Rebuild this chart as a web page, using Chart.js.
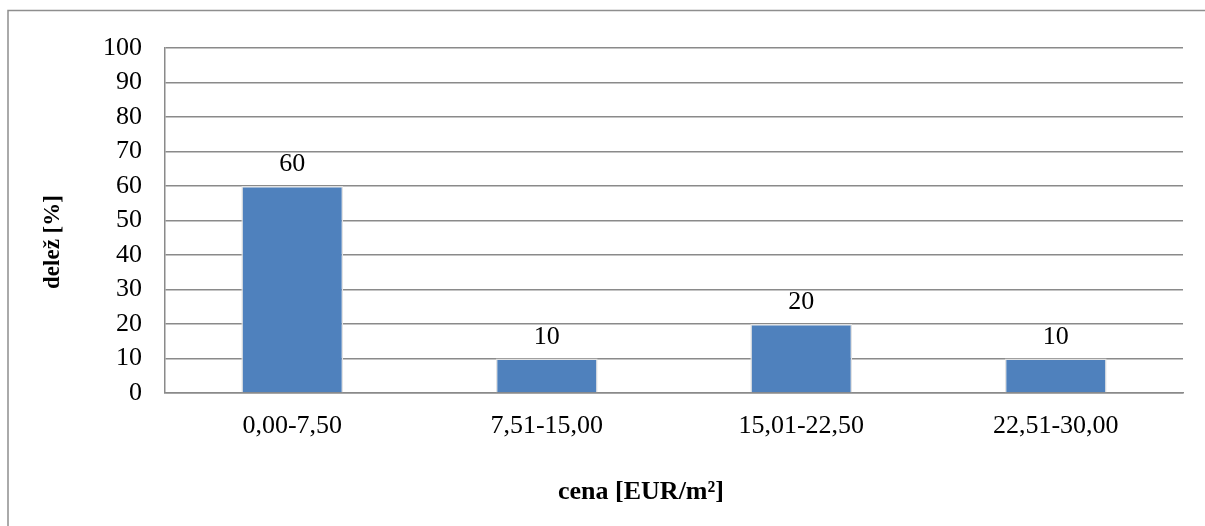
<!DOCTYPE html>
<html>
<head>
<meta charset="utf-8">
<script src="https://cdn.jsdelivr.net/npm/chart.js@4/dist/chart.umd.min.js"></script>
<style>
  html, body { margin: 0; padding: 0; background: #ffffff; }
  #wrap { width: 1205px; height: 526px; }
</style>
</head>
<body>
<div id="wrap"><canvas id="chart" width="1205" height="526"></canvas></div>
<script>
// Price classes and the share of each class
const categories = ['0,00-7,50', '7,51-15,00', '15,01-22,50', '22,51-30,00'];
const shares = [60, 10, 20, 10];
const yTicks = [0, 10, 20, 30, 40, 50, 60, 70, 80, 90, 100];
const xTitle = 'cena [EUR/m²]';
const yTitle = 'delež [%]';

const FONT = '"Liberation Serif", "Times New Roman", serif';
const GRID = '#8a8a8a';

// Outer frame of the chart object: only its left and top edges fall inside the canvas
const framePlugin = {
  id: 'frame',
  beforeDraw(chart) {
    const ctx = chart.ctx;
    ctx.save();
    ctx.strokeStyle = '#8e8e8e';
    ctx.lineWidth = 1.5;
    ctx.beginPath();
    ctx.moveTo(8, chart.height + 5);
    ctx.lineTo(8, 10.5);
    ctx.lineTo(chart.width + 5, 10.5);
    ctx.stroke();
    ctx.restore();
  }
};

// Axis titles, centred on the whole chart object rather than the plot area
const axisTitles = {
  id: 'axisTitles',
  afterDraw(chart) {
    const ctx = chart.ctx;
    ctx.save();
    ctx.fillStyle = '#000000';
    ctx.textAlign = 'center';
    ctx.textBaseline = 'middle';
    ctx.font = 'bold 26px ' + FONT;
    ctx.fillText(xTitle, 641, 492);
    ctx.translate(53, 242);
    ctx.rotate(-Math.PI / 2);
    ctx.font = 'bold 23px ' + FONT;
    ctx.fillText(yTitle, 0, 0);
    ctx.restore();
  }
};

// Value labels above each bar
const valueLabels = {
  id: 'valueLabels',
  afterDatasetsDraw(chart) {
    const ctx = chart.ctx;
    ctx.save();
    ctx.font = '26px ' + FONT;
    ctx.fillStyle = '#000000';
    ctx.textAlign = 'center';
    ctx.textBaseline = 'alphabetic';
    chart.getDatasetMeta(0).data.forEach((bar, i) => {
      ctx.fillText(String(shares[i]), bar.x, bar.y - 15);
    });
    ctx.restore();
  }
};

new Chart(document.getElementById('chart'), {
  type: 'bar',
  data: {
    labels: categories,
    datasets: [{
      data: shares,
      backgroundColor: '#4F81BD',
      borderColor: '#e2e2e2',
      borderWidth: 1.5,
      barPercentage: 0.4,
      categoryPercentage: 1.0
    }]
  },
  plugins: [framePlugin, valueLabels, axisTitles],
  options: {
    responsive: false,
    animation: false,
    devicePixelRatio: 1,
    layout: { padding: { top: 48, right: 22, left: 0, bottom: 0 } },
    plugins: {
      legend: { display: false },
      tooltip: { enabled: false }
    },
    scales: {
      x: {
        grid: { display: false, drawTicks: false },
        border: { display: true, color: GRID, width: 1.5 },
        ticks: {
          color: '#000000',
          font: { family: FONT, size: 26 },
          padding: 18,
          maxRotation: 0
        },
        title: { display: false },
        afterFit(scale) { scale.height = 133; }
      },
      y: {
        min: 0,
        max: 100,
        afterBuildTicks(scale) { scale.ticks = yTicks.map(v => ({ value: v })); },
        grid: { color: GRID, lineWidth: 1.5, drawTicks: false },
        border: { display: true, color: GRID, width: 1.5 },
        ticks: {
          color: '#000000',
          font: { family: FONT, size: 26 },
          padding: 23
        },
        title: { display: false },
        afterFit(scale) { scale.width = 165; }
      }
    }
  }
});
</script>
</body>
</html>
